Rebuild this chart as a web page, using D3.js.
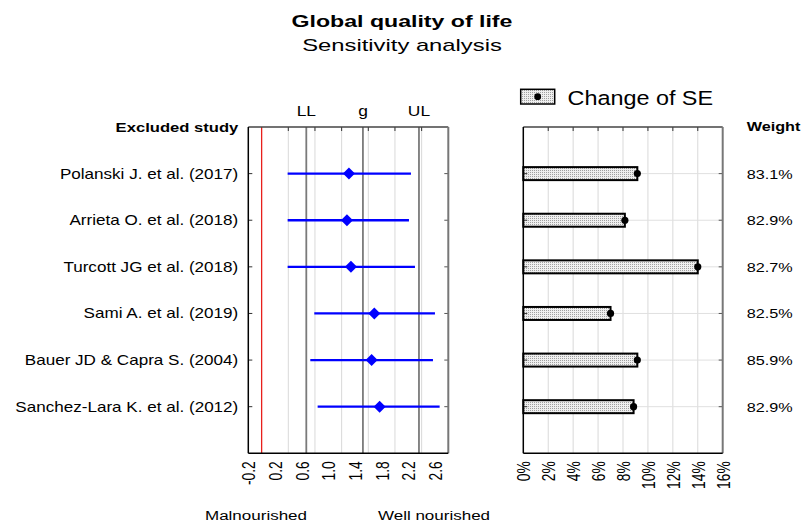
<!DOCTYPE html>
<html>
<head>
<meta charset="utf-8">
<script src="https://cdn.jsdelivr.net/npm/d3@7"></script>
<style>
  body { margin:0; background:#fff; }
  svg text { font-family:"Liberation Sans", Arial, sans-serif; fill:#000; }
</style>
</head>
<body>
<div class="sens-chart"></div>
<script>
var studies = ["Polanski J. et al. (2017)", "Arrieta O. et al. (2018)", "Turcott JG et al. (2018)",
               "Sami A. et al. (2019)", "Bauer JD & Capra S. (2004)", "Sanchez-Lara K. et al. (2012)"];
var effect = [1.31, 1.28, 1.34, 1.69, 1.65, 1.77];
var lowerCI = [0.39, 0.39, 0.39, 0.79, 0.73, 0.84];
var upperCI = [2.24, 2.21, 2.30, 2.60, 2.57, 2.67];
var seChange = [9.15, 8.15, 14.0, 7.0, 9.15, 8.85];
var weights = ["83.1%", "82.9%", "82.7%", "82.5%", "85.9%", "82.9%"];
var pooledNames = ["LL", "g", "UL"];
var pooledValues = [0.67, 1.52, 2.36];
var effectTicks = [-0.2, 0.2, 0.6, 1.0, 1.4, 1.8, 2.2, 2.6];
var effectGrid = [0.4, 0.8, 1.2, 1.6, 2.0, 2.4];
var seTicks = [0, 2, 4, 6, 8, 10, 12, 14, 16];

var options = {
  width:805, height:525,
  top:127, bottom:453.3,
  leftX0:248.3, leftX1:448.3,
  rightX0:523.3, rightX1:722.7,
  sx:1.22
};

var svg = d3.select(".sens-chart").append("svg")
    .attr("width", options.width)
    .attr("height", options.height);

// dotted fill for the bars
var pat = svg.append("defs").append("pattern")
    .attr("id", "dots").attr("width", 2).attr("height", 2)
    .attr("patternUnits", "userSpaceOnUse");
pat.append("rect").attr("width", 2).attr("height", 2).attr("fill", "#efefef");
pat.append("rect").attr("width", 1).attr("height", 1).attr("fill", "#a0a0a0");

function label(x, y, txt, size, anchor, weight, sx){
  return svg.append("text")
    .attr("transform", "translate(" + x + "," + y + ") scale(" + (sx || options.sx) + ",1)")
    .attr("text-anchor", anchor)
    .style("font-size", size + "px")
    .style("font-weight", weight || "normal")
    .text(txt);
}

var xL = d3.scaleLinear().domain([-0.2, 2.8]).range([options.leftX0, options.leftX1]);
var xR = d3.scaleLinear().domain([0, 16]).range([options.rightX0, options.rightX1]);
var y = d3.scaleLinear().domain([0, 7]).range([options.top, options.bottom]);
var rows = d3.range(studies.length);

// titles
label(402, 27, "Global quality of life", 17, "middle", "bold", 1.36);
label(402, 51, "Sensitivity analysis", 17, "middle", "normal", 1.4);

// ---------- left panel ----------
var left = svg.append("g");
left.selectAll(".grid").data(effectGrid).enter().append("line")
    .attr("x1", function(d){ return xL(d); }).attr("x2", function(d){ return xL(d); })
    .attr("y1", options.top).attr("y2", options.bottom)
    .style("stroke", "#d9d9d9").style("stroke-width", 1);
left.selectAll(".tick-top").data(effectGrid).enter().append("line")
    .attr("x1", function(d){ return xL(d); }).attr("x2", function(d){ return xL(d); })
    .attr("y1", options.top).attr("y2", options.top + 4)
    .style("stroke", "#333");
left.append("line")
    .attr("x1", xL(0)).attr("x2", xL(0))
    .attr("y1", options.top).attr("y2", options.bottom)
    .style("stroke", "#e8201c").style("stroke-width", 1.3);
left.selectAll(".pooled").data(pooledValues).enter().append("line")
    .attr("x1", function(d){ return xL(d); }).attr("x2", function(d){ return xL(d); })
    .attr("y1", options.top).attr("y2", options.bottom)
    .style("stroke", function(d, i){ return i == 1 ? "#111" : "#7a7a7a"; })
    .style("stroke-width", function(d, i){ return i == 1 ? 1 : 1.8; });
pooledValues.forEach(function(v, i){
  label(xL(v), 116, pooledNames[i], 14.5, "middle", "normal", 1.2);
});
left.selectAll(".ci").data(rows).enter().append("line")
    .attr("x1", function(i){ return xL(lowerCI[i]); })
    .attr("x2", function(i){ return xL(upperCI[i]); })
    .attr("y1", function(i){ return y(i + 1); })
    .attr("y2", function(i){ return y(i + 1); })
    .style("stroke", "#0000ff").style("stroke-width", 2.3);
left.selectAll(".diamond").data(rows).enter().append("path")
    .attr("d", "M0,-6L6,0L0,6L-6,0Z")
    .attr("transform", function(i){ return "translate(" + xL(effect[i]) + "," + y(i + 1) + ")"; })
    .style("fill", "#0000ff");

function frame(g, x0, x1){
  g.selectAll(".rowtick").data(rows).enter().append("line")
    .attr("x1", x0).attr("x2", x0 + 4)
    .attr("y1", function(i){ return y(i + 1); }).attr("y2", function(i){ return y(i + 1); })
    .style("stroke", "#333");
  g.selectAll(".rowtick2").data(rows).enter().append("line")
    .attr("x1", x1 - 4).attr("x2", x1)
    .attr("y1", function(i){ return y(i + 1); }).attr("y2", function(i){ return y(i + 1); })
    .style("stroke", "#555");
  g.append("line").attr("x1", x0).attr("x2", x1).attr("y1", options.top).attr("y2", options.top)
    .style("stroke", "#444").style("stroke-width", 1.3);
  g.append("line").attr("x1", x1).attr("x2", x1).attr("y1", options.top).attr("y2", options.bottom)
    .style("stroke", "#777").style("stroke-width", 2);
  g.append("line").attr("x1", x0).attr("x2", x1).attr("y1", options.bottom).attr("y2", options.bottom)
    .style("stroke", "#000").style("stroke-width", 1.5);
  g.append("line").attr("x1", x0).attr("x2", x0).attr("y1", options.top).attr("y2", options.bottom)
    .style("stroke", "#000").style("stroke-width", 1.5);
}
frame(left, options.leftX0, options.leftX1);

function rotatedAxis(scale, values, fmt){
  var ax = svg.append("g")
      .attr("transform", "translate(0," + options.bottom + ")")
      .call(d3.axisBottom(scale).tickValues(values).tickSize(0).tickFormat(fmt));
  ax.select(".domain").remove();
  ax.selectAll("text")
    .attr("x", null).attr("y", null).attr("dy", "0.35em")
    .attr("text-anchor", "end")
    .attr("transform", "translate(0,8) scale(1.35,1) rotate(-90)")
    .style("font-size", "13.8px").style("font-family", null);
  return ax;
}
rotatedAxis(xL, effectTicks, function(d){ return d.toFixed(1); });

label(238.3, 131.5, "Excluded study", 13.5, "end", "bold", 1.23);
rows.forEach(function(i){
  label(238.3, y(i + 1) + 5, studies[i], 14, "end", "normal", 1.22);
});

label(256, 520, "Malnourished", 13.5, "middle", "normal", 1.26);
label(434, 520, "Well nourished", 13.5, "middle", "normal", 1.26);

// ---------- right panel ----------
var right = svg.append("g");
right.selectAll(".grid").data(seTicks.slice(1, -1)).enter().append("line")
    .attr("x1", function(d){ return xR(d); }).attr("x2", function(d){ return xR(d); })
    .attr("y1", options.top).attr("y2", options.bottom)
    .style("stroke", "#d9d9d9");
right.selectAll(".tick-top").data(seTicks.slice(1, -1)).enter().append("line")
    .attr("x1", function(d){ return xR(d); }).attr("x2", function(d){ return xR(d); })
    .attr("y1", options.top).attr("y2", options.top + 4)
    .style("stroke", "#333");
right.selectAll(".hgrid").data(rows).enter().append("line")
    .attr("x1", options.rightX0).attr("x2", options.rightX1)
    .attr("y1", function(i){ return y(i + 1); }).attr("y2", function(i){ return y(i + 1); })
    .style("stroke", "#e0e0e0");
right.selectAll(".bar").data(rows).enter().append("rect")
    .attr("x", xR(0))
    .attr("y", function(i){ return y(i + 1) - 6.5; })
    .attr("width", function(i){ return xR(seChange[i]) - xR(0); })
    .attr("height", 13)
    .style("fill", "url(#dots)").style("stroke", "#000").style("stroke-width", 2);
right.selectAll(".dot").data(rows).enter().append("circle")
    .attr("cx", function(i){ return xR(seChange[i]); })
    .attr("cy", function(i){ return y(i + 1); })
    .attr("r", 3.6).style("fill", "#000");
frame(right, options.rightX0, options.rightX1);
rotatedAxis(xR, seTicks, function(d){ return d + "%"; });

label(746.7, 131, "Weight", 13.5, "start", "bold", 1.2);
rows.forEach(function(i){
  label(746.7, y(i + 1) + 5, weights[i], 13.5, "start", "normal", 1.2);
});

// legend
svg.append("rect").attr("x", 520.7).attr("y", 89.3).attr("width", 34).attr("height", 14.7)
    .style("fill", "url(#dots)").style("stroke", "#000").style("stroke-width", 1.5);
svg.append("circle").attr("cx", 537.7).attr("cy", 96.7).attr("r", 3.4).style("fill", "#000");
label(567.5, 105, "Change of SE", 19.5, "start", "normal", 1.2);
</script>
</body>
</html>
